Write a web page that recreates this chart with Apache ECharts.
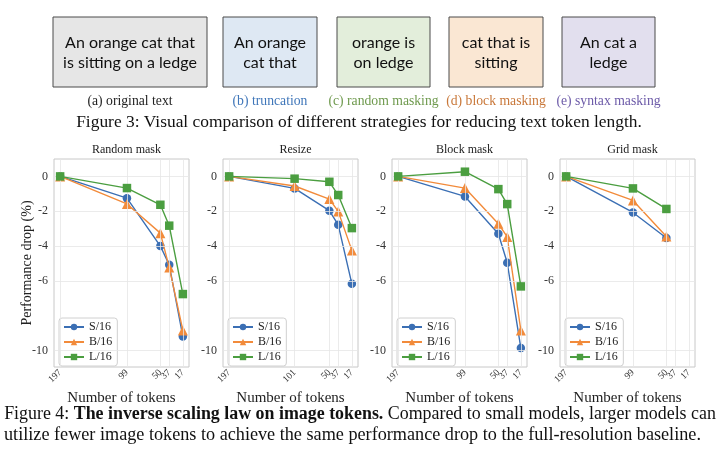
<!DOCTYPE html>
<html><head><meta charset="utf-8">
<script src="https://cdn.jsdelivr.net/npm/echarts@6/dist/echarts.min.js"></script>
<style>html,body{margin:0;padding:0;background:#fff}#c{width:720px;height:456px}</style>
</head><body><div id="c"></div>
<script>
// ---- data ----
const panelTitles = ['Random mask', 'Resize', 'Block mask', 'Grid mask'];
const tokensRandom = [197, 99, 50, 37, 17];
const tokensResize = [197, 101, 50, 37, 17];
const tokensBlock = [197, 99, 50, 37, 17];
const tokensGrid = [197, 99, 50];
const xTickLabelsStd = [197, 99, 50, 37, 17];
const xTickLabelsResize = [197, 101, 50, 37, 17];
const yTicks = [0, -2, -4, -6, -10];
const seriesNames = ['S/16', 'B/16', 'L/16'];

const randomS = [0, -1.25, -4.0, -5.08, -9.2];
const randomB = [0, -1.58, -3.26, -5.23, -8.85];
const randomL = [0, -0.67, -1.63, -2.83, -6.76];

const resizeS = [0, -0.69, -1.97, -2.78, -6.17];
const resizeB = [0, -0.55, -1.30, -2.01, -4.25];
const resizeL = [0, -0.13, -0.31, -1.07, -2.97];

const blockS = [0, -1.15, -3.29, -4.96, -9.86];
const blockB = [0, -0.67, -2.72, -3.48, -8.85];
const blockL = [0, 0.27, -0.73, -1.59, -6.32];

const gridS = [0, -2.07, -3.54];
const gridB = [0, -1.38, -3.45];
const gridL = [0, -0.69, -1.87];

const boxTexts = ['An orange cat that\nis sitting on a ledge', 'An orange\ncat that', 'orange is\non ledge', 'cat that is\nsitting', 'An cat a\nledge'];
const boxCaptions = ['(a) original text', '(b) truncation', '(c) random masking', '(d) block masking', '(e) syntax masking'];
const fig3Caption = 'Figure 3: Visual comparison of different strategies for reducing text token length.';
const fig4Bold = 'The inverse scaling law on image tokens.';
const fig4Line1Rest = ' Compared to small models, larger models can';
const fig4Line2 = 'utilize fewer image tokens to achieve the same performance drop to the full-resolution baseline.';

// ---- styling ----
const colors = ['#3b6fb4', '#f28b3b', '#4b9e40'];
const symbols = ['circle', 'triangle', 'rect'];
const serif = '"Liberation Serif", "Times New Roman", serif';
const panels = [
  {x: tokensRandom, ys: [randomS, randomB, randomL], ticks: xTickLabelsStd},
  {x: tokensResize, ys: [resizeS, resizeB, resizeL], ticks: xTickLabelsResize},
  {x: tokensBlock, ys: [blockS, blockB, blockL], ticks: xTickLabelsStd},
  {x: tokensGrid, ys: [gridS, gridB, gridL], ticks: xTickLabelsStd}
];
const gridLefts = [54, 223, 392, 560];
const gridW = 135, gridTop = 159, gridH = 208;

const grids = [], xAxes = [], yAxes = [], series = [], titles = [], legends = [];
panels.forEach((p, i) => {
  grids.push({left: gridLefts[i], top: gridTop, width: gridW, height: gridH, show: true, borderColor: '#c8c8c8', borderWidth: 1, backgroundColor: 'transparent'});
  xAxes.push({
    gridIndex: i, type: 'value', inverse: true, min: 8, max: 206,
    axisLine: {show: false}, axisTick: {show: false}, splitLine: {show: false},
    axisLabel: {customValues: p.ticks, rotate: 45, fontFamily: serif, fontSize: 9.5, color: '#333', margin: 4},
    name: 'Number of tokens', nameLocation: 'middle', nameGap: 24,
    nameTextStyle: {fontFamily: serif, fontSize: 15, color: '#222'}
  });
  yAxes.push({
    gridIndex: i, type: 'value', min: -10.95, max: 1.0,
    axisLine: {show: false}, axisTick: {show: false}, splitLine: {show: false},
    axisLabel: {customValues: yTicks, fontFamily: serif, fontSize: 12, color: '#333', margin: 6},
    name: i === 0 ? 'Performance drop (%)' : '', nameLocation: 'middle', nameGap: 20, nameRotate: 90,
    nameMoveOverlap: false,
    nameTextStyle: {fontFamily: serif, fontSize: 14, color: '#222'}
  });
  titles.push({text: panelTitles[i], left: gridLefts[i] + gridW / 2, top: 139, textAlign: 'center',
    textStyle: {fontFamily: serif, fontSize: 12, fontWeight: 'normal', color: '#222'}});
  legends.push({
    data: seriesNames, orient: 'vertical', left: gridLefts[i] + 5, top: 318,
    itemWidth: 20, itemHeight: 8, itemGap: 3, padding: [3, 5, 3, 4],
    borderColor: '#d0d0d0', borderWidth: 1, borderRadius: 3, backgroundColor: '#fff',
    textStyle: {fontFamily: serif, fontSize: 12, color: '#222'}
  });
  // gridlines helper (drawn via markLine on an empty series)
  series.push({
    type: 'line', xAxisIndex: i, yAxisIndex: i, data: [], silent: true,
    markLine: {silent: true, symbol: 'none', label: {show: false}, animation: false,
      lineStyle: {color: '#e6e6e6', width: 0.8, type: 'solid'},
      data: p.ticks.map(v => ({xAxis: v})).concat(yTicks.map(v => ({yAxis: v})))}
  });
  p.ys.forEach((ys, k) => {
    series.push({
      name: seriesNames[k], type: 'line', xAxisIndex: i, yAxisIndex: i,
      data: p.x.map((x, j) => [x, ys[j]]),
      symbol: symbols[k], symbolSize: k === 1 ? 10 : 8.5,
      lineStyle: {width: 1.4, color: colors[k]}, itemStyle: {color: colors[k]},
      animation: false, z: 3 + k
    });
  });
});

// ---- top figure graphics ----
const boxes = [[53, 154], [223, 94], [337, 93], [449, 94], [562, 93]];
const boxFills = ['#e6e6e6', '#dee8f3', '#e3eedb', '#fae7d3', '#e2dfee'];
const capColors = ['#222', '#3f76b9', '#6f9a4e', '#c9783a', '#6c5aa8'];
const sans = 'Lato, "Open Sans", sans-serif';
const graphics = [];
boxes.forEach((b, i) => {
  graphics.push({type: 'rect', shape: {x: b[0], y: 17, width: b[1], height: 70},
    style: {fill: boxFills[i], stroke: '#4a4a4a', lineWidth: 1}});
  graphics.push({type: 'text', x: b[0] + b[1] / 2, y: 53,
    style: {text: boxTexts[i], font: '16px ' + sans, fill: '#111', textAlign: 'center', textVerticalAlign: 'middle', lineHeight: 20}});
  graphics.push({type: 'text', x: b[0] + b[1] / 2, y: 101,
    style: {text: boxCaptions[i], font: '13.7px ' + serif, fill: capColors[i], textAlign: 'center', textVerticalAlign: 'middle'}});
});
graphics.push({type: 'text', x: 359, y: 122,
  style: {text: fig3Caption, font: '17.4px ' + serif, fill: '#111', textAlign: 'center', textVerticalAlign: 'middle'}});
graphics.push({type: 'text', x: 360, y: 414,
  style: {text: 'Figure 4: {b|' + fig4Bold + '}' + fig4Line1Rest, font: '17.9px ' + serif, fill: '#111', textAlign: 'center', textVerticalAlign: 'middle',
    rich: {b: {fontWeight: 'bold', fontFamily: serif, fontSize: 17.9, fill: '#111'}}}});
graphics.push({type: 'text', x: 4, y: 435,
  style: {text: fig4Line2, font: '18.2px ' + serif, fill: '#111', textAlign: 'left', textVerticalAlign: 'middle'}});

const chart = echarts.init(document.getElementById('c'), null, {renderer: 'canvas'});
chart.setOption({
  animation: false,
  backgroundColor: '#fff',
  title: titles, legend: legends, grid: grids, xAxis: xAxes, yAxis: yAxes, series: series,
  graphic: graphics
});
</script></body></html>
